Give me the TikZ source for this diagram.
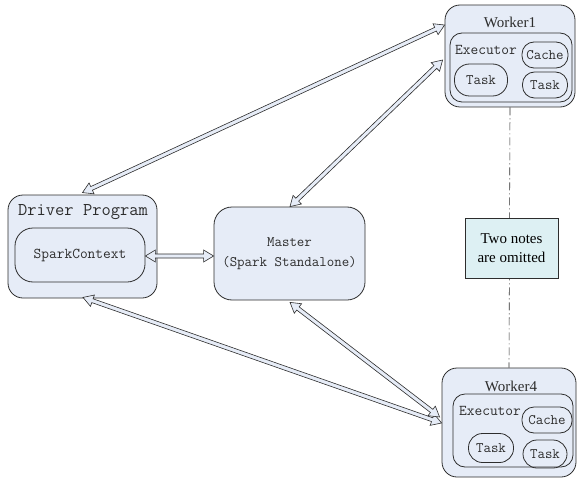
\documentclass[tikz,border=0pt]{standalone}
\usepackage{fontspec}
\newfontfamily\timesf{Liberation Serif}
\usetikzlibrary{calc}
\definecolor{boxfill}{RGB}{230,236,247}
\definecolor{notefill}{RGB}{221,240,243}
\definecolor{ink}{RGB}{45,45,45}
\newcommand\dblarrow[2]{%
  \path (#1) coordinate (da) (#2) coordinate (db);
  \path ($(da)!10pt!(db)$) coordinate (dp) ($(db)!10pt!(da)$) coordinate (dq);
  \draw[arrowshape] (da) -- ($(dp)!6pt!90:(db)$) -- ($(dp)!2pt!90:(db)$)
    -- ($(dq)!2pt!-90:(da)$) -- ($(dq)!6pt!-90:(da)$) -- (db)
    -- ($(dq)!6pt!90:(da)$) -- ($(dq)!2pt!90:(da)$)
    -- ($(dp)!2pt!-90:(db)$) -- ($(dp)!6pt!-90:(db)$) -- cycle;
}
\tikzset{
  box/.style={draw=ink, line width=0.8pt, fill=boxfill, rectangle, inner sep=0pt},
  outerbox/.style={box, rounded corners=15pt},
  execbox/.style={draw=ink, line width=0.8pt, rectangle, rounded corners=12pt, inner sep=0pt},
  pill/.style={draw=ink, line width=0.8pt, rectangle, rounded corners=12pt, inner sep=0pt,
     font=\ttfamily\fontsize{14.5}{16}\selectfont, text=ink},
  ttlabel/.style={font=\ttfamily\fontsize{15}{17}\selectfont, text=ink, inner sep=0pt},
  serlabel/.style={font=\timesf\fontsize{15}{18}\selectfont, text=ink, inner sep=0pt},
  arrowshape/.style={draw=ink, line width=0.6pt, fill=boxfill, line join=miter},
  notebox/.style={draw=ink, line width=0.8pt, fill=notefill, rectangle, inner sep=0pt,
     align=center, font=\timesf\fontsize{15}{19}\selectfont, text=black},
  dashdot/.style={draw=ink, line width=0.6pt, dash pattern=on 8pt off 3pt on 1pt off 3pt}
}
\begin{document}
\begin{tikzpicture}[x=1pt, y=-1pt]
\useasboundingbox (0,0) rectangle (577,481);

% Worker1
\node[outerbox, minimum width=130pt, minimum height=102pt] (worker1) at (510,56) {};
\node[serlabel] (w1title) at (510,22) {Worker1};
\node[execbox, minimum width=122pt, minimum height=69pt] (w1exec) at (511,67.5) {};
\node[ttlabel] (w1exectext) at (486,50) {Executor};
\node[pill, minimum width=46pt, minimum height=26pt] (w1cache) at (545,55) {Cache};
\node[pill, minimum width=53pt, minimum height=32pt, rounded corners=15pt] (w1task1) at (481,80) {Task};
\node[pill, minimum width=45pt, minimum height=26pt] (w1task2) at (545,85) {Task};

% Worker4
\node[outerbox, minimum width=134pt, minimum height=109pt] (worker4) at (509,422.5) {};
\node[serlabel] (w4title) at (511,386) {Worker4};
\node[execbox, minimum width=120pt, minimum height=73pt] (w4exec) at (513,430.5) {};
\node[ttlabel] (w4exectext) at (490,411) {Executor};
\node[pill, minimum width=50pt, minimum height=26pt] (w4cache) at (547,420) {Cache};
\node[pill, minimum width=45pt, minimum height=29pt, rounded corners=14pt] (w4task1) at (491,448) {Task};
\node[pill, minimum width=44pt, minimum height=28pt, rounded corners=14pt] (w4task2) at (545,454) {Task};

% Driver
\node[outerbox, minimum width=149pt, minimum height=103pt] (driver) at (82.5,246.5) {};
\node[ttlabel, font=\ttfamily\fontsize{18}{20}\selectfont] (drivertitle) at (83,212) {Driver Program};
\node[execbox, minimum width=130pt, minimum height=54pt, rounded corners=18pt,
      font=\ttfamily\fontsize{15}{17}\selectfont, text=ink] (sc) at (80,255) {SparkContext};

% Master
\node[outerbox, rounded corners=18pt, minimum width=151pt, minimum height=93pt,
      align=center, font=\ttfamily\fontsize{14.5}{20}\selectfont, text=ink] (master) at (289.5,253.5)
      {Master\\(Spark Standalone)};

% dash-dot line and note
\draw[dashdot] (worker1.south) -- (worker4.north);
\node[notebox, minimum width=93pt, minimum height=60pt] (note) at (511.5,248) {Two notes\\are omitted};

% arrows
\dblarrow{$(driver.north)+(0,-2)$}{$(worker1.west)+(0,-31)$}
\dblarrow{$(master.north)+(0.5,0)$}{$(worker1.west)+(-2,4)$}
\dblarrow{$(sc.east)+(0,1)$}{$(master.west)+(0,2.5)$}
\dblarrow{$(driver.south)+(0.5,-1)$}{$(worker4.west)+(0,0.5)$}
\dblarrow{$(master.south)+(0.5,2)$}{$(worker4.west)+(-2,-5.5)$}
\end{tikzpicture}
\end{document}
